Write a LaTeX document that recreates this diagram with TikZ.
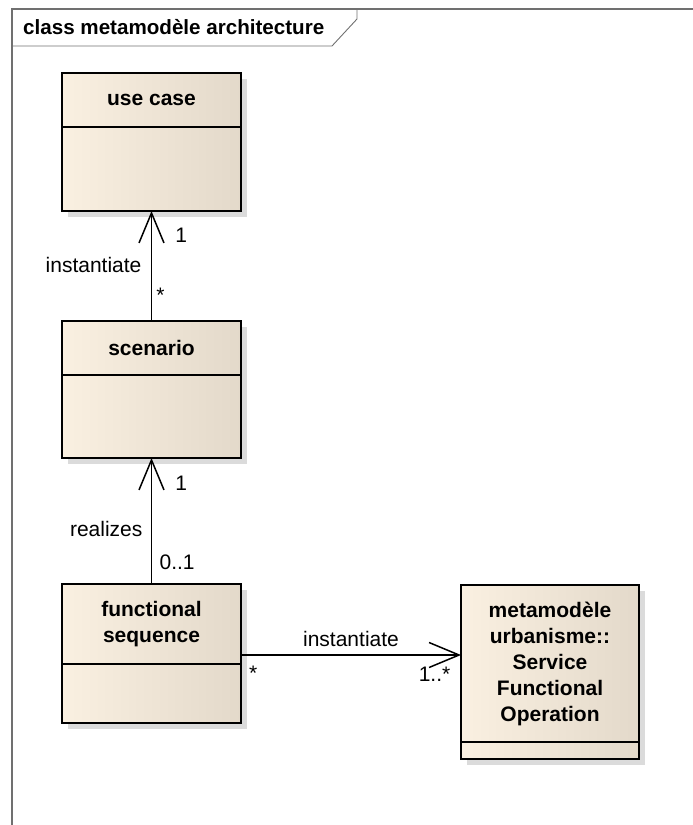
\documentclass[tikz,border=0pt]{standalone}
\usepackage{fontspec}
\setmainfont{Liberation Sans}
\usetikzlibrary{arrows.meta}
\usetikzlibrary{positioning}
\usetikzlibrary{shadows}

\definecolor{boxlight}{HTML}{FAF0E1}
\definecolor{boxdark}{HTML}{E3D9CA}
\definecolor{framegray}{HTML}{707070}

\begin{document}
\begin{tikzpicture}
    [x=1pt,y=-1pt,
    font=\fontsize{21}{26}\selectfont,
    classpart/.style={rectangle,draw=black,line width=1.5pt,outer sep=0pt,
      left color=boxlight,middle color=boxlight,right color=boxdark,
      drop shadow={shadow xshift=6pt,shadow yshift=-6pt,fill=black!28},
      inner sep=0pt,minimum width=179pt,align=center},
    classhead/.style={classpart,font=\fontsize{21}{26}\selectfont\bfseries},
    assoc/.style={line width=1.5pt,-{Straight Barb[length=30pt,width=25pt,line width=1.5pt]}},
    mult/.style={inner sep=1pt}]

    \useasboundingbox (0,0) rectangle (693,825);

    % diagram frame and its tab
    \draw[framegray,line width=1.5pt] (12,825) -- (12,9) -- (693,9);
    \draw[framegray,line width=0.9pt] (12,46) -- (332,46) -- (357,19) -- (357,9);
    \node[anchor=west,inner sep=0pt,font=\fontsize{20.6}{24}\selectfont\bfseries]
      (title) at (23,27) {class metamodèle architecture};

    % classes
    \node[classhead,minimum height=54pt]       (use case)      at (151.5,100)  {use case};
    \node[classpart,minimum height=84pt,below=0pt of use case] (use case body) {};

    \node[classhead,minimum height=54pt]       (scenario)      at (151.5,348)  {scenario};
    \node[classpart,minimum height=83pt,below=0pt of scenario] (scenario body) {};

    \node[classhead,minimum height=80pt]       (sequence)      at (151.5,624)  {functional\\sequence};
    \node[classpart,minimum height=59pt,below=0pt of sequence] (sequence body) {};

    \node[classhead,minimum height=157pt,minimum width=178pt] (operation) at (550,663.5)
      {metamodèle\\urbanisme::\\Service\\Functional\\Operation};
    \node[classpart,minimum height=17pt,minimum width=178pt,below=0pt of operation] (operation body) {};

    % associations
    \draw[assoc] (scenario.north) -- (use case body.south)
      node[pos=0.23,mult,right=3pt] {*}
      node[pos=0.51,left=6pt] {instantiate}
      node[pos=0.78,mult,right=22pt] {1};

    \draw[assoc] (sequence.north) -- (scenario body.south)
      node[pos=0.17,right=4pt] {0..1}
      node[pos=0.44,left=5pt] {realizes}
      node[pos=0.80,mult,right=22pt] {1};

    \coordinate (sequence out) at ([yshift=-31pt]sequence.east);
    \draw[assoc] (sequence out) -- (sequence out -| operation.west)
      node[midway,above=4pt] {instantiate}
      node[pos=0.02,mult,below right=9pt and 2pt] {*}
      node[pos=0.97,below left=8pt and 0pt] {1..*};

  \end{tikzpicture}
\end{document}
